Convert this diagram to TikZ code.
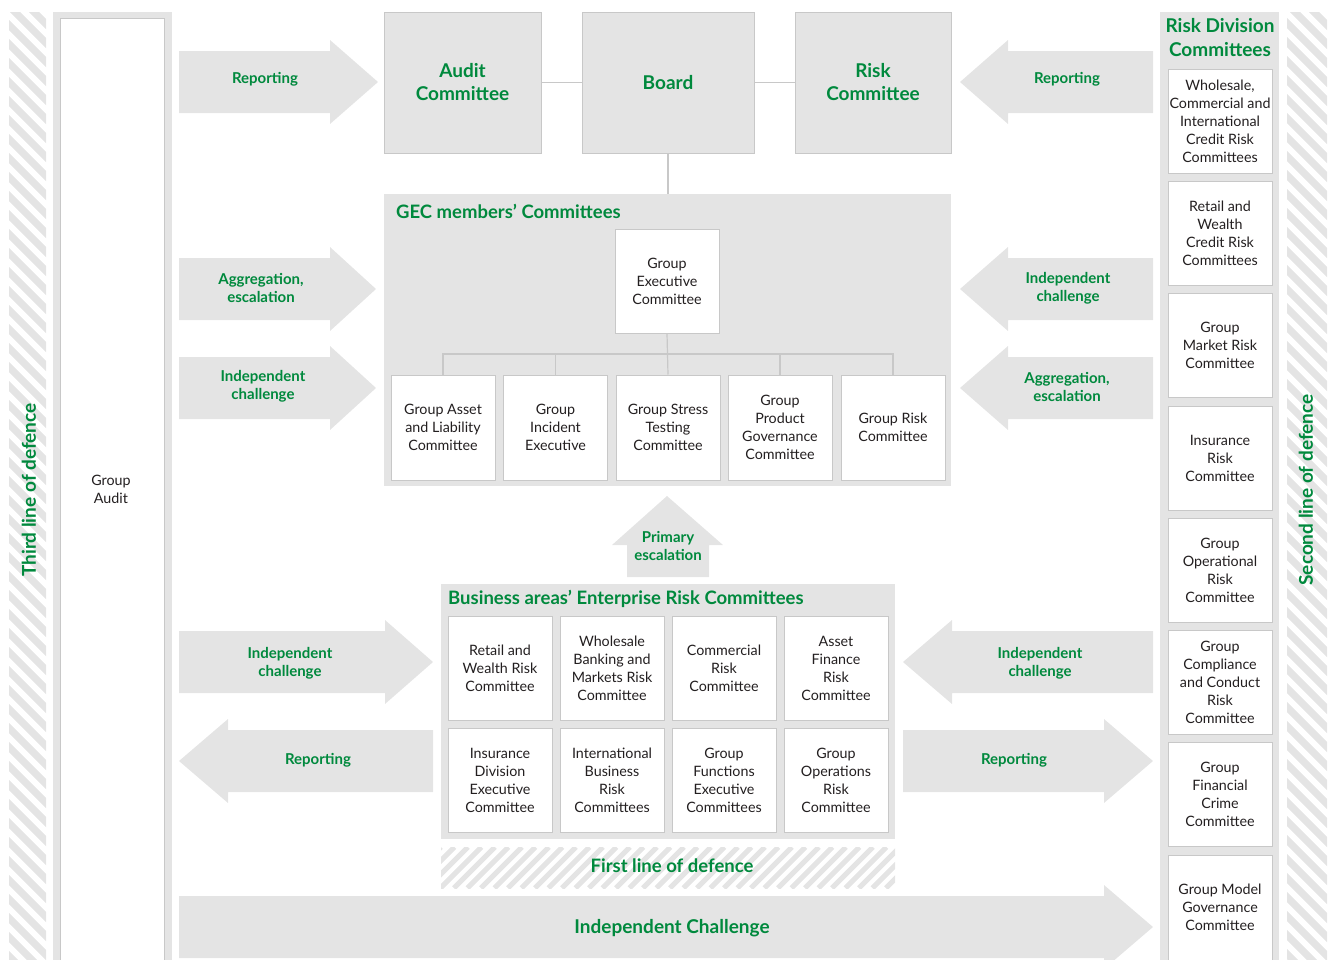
\documentclass[tikz,border=0pt]{standalone}
\usepackage{fontspec}
\setmainfont{Lato}
\definecolor{grn}{RGB}{0,137,61}
\definecolor{gfill}{RGB}{228,228,228}
\definecolor{gline}{RGB}{200,200,200}
\definecolor{hatchc}{RGB}{228,228,228}
\definecolor{bodyc}{RGB}{35,31,32}
\newcommand\shapeR[4]{\fill[gfill] (#1,{#4-31}) -- (#2,{#4-31}) -- (#2,{#4-42}) -- (#3,#4) -- (#2,{#4+42}) -- (#2,{#4+31}) -- (#1,{#4+31}) -- cycle;}
\newcommand\shapeL[4]{\fill[gfill] (#1,#4) -- (#2,{#4-42}) -- (#2,{#4-31}) -- (#3,{#4-31}) -- (#3,{#4+31}) -- (#2,{#4+31}) -- (#2,{#4+42}) -- cycle;}
\begin{document}
\begin{tikzpicture}[x=1pt,y=-1pt,
 gbox/.style={fill=gfill,draw=gline,line width=1pt,inner sep=0pt,text=grn,font=\fontsize{19}{23}\selectfont\bfseries,align=center,minimum height=141pt},
 wbox/.style={fill=white,draw=gline,line width=1pt,inner sep=0pt,minimum width=104pt,minimum height=104pt,align=center,font=\fontsize{14.3}{18}\selectfont,text=bodyc},
 lbl/.style={text=grn,font=\fontsize{15}{18}\selectfont\bfseries,align=center,inner sep=0pt},
 ttl/.style={text=grn,font=\fontsize{19}{24}\selectfont\bfseries,inner sep=0pt,align=center},
 conn/.style={draw=gline,line width=1.2pt},
 panel/.style={fill=gfill,inner sep=0pt}
 ]
\useasboundingbox (0,0) rectangle (1333,959);

% hatched strips
\begin{scope}
\clip (9,12) rectangle (46,959);
\foreach \i in {-60,-41,...,980} \draw[hatchc,line width=7.2pt] (0,\i) -- (60,{\i+60});
\end{scope}
\begin{scope}
\clip (1287,12) rectangle (1327,959);
\foreach \i in {-60,-41,...,980} \draw[hatchc,line width=7.2pt] (1280,\i) -- (1340,{\i+60});
\end{scope}
\begin{scope}
\clip (441,847) rectangle (895,888);
\foreach \i in {400,413.5,...,910} \draw[hatchc,line width=5.2pt] (\i,888) -- ({\i+41},847);
\end{scope}

% Group Audit column
\fill[gfill] (53,12) rectangle (172,975);
\node[draw=gline,fill=white,line width=1pt,minimum width=104pt,minimum height=957pt,inner sep=0pt] (gacol) at (112,496.5) {};
\node[font=\fontsize{14.3}{18}\selectfont,text=bodyc,align=center] (ga) at (111,489) {Group\\Audit};
\node[ttl,rotate=90] (third) at (29,490) {Third line of defence};

% Risk division column
\node[panel,minimum width=119pt,minimum height=963pt] (rdcol) at (1219.5,493.5) {};
\node[ttl] (rdt) at (1220,38) {Risk Division\\Committees};
\node[ttl,rotate=90] (second) at (1306,490) {Second line of defence};

% arrows
\shapeR{179}{330}{378}{82}
\shapeR{179}{330}{376}{289}
\shapeR{179}{330}{376}{388}
\shapeR{179}{385}{433}{662}
\shapeL{179}{228}{433}{761}
\shapeL{960}{1008}{1153}{82}
\shapeL{960}{1008}{1153}{289}
\shapeL{960}{1008}{1153}{388}
\shapeL{903}{952}{1153}{662}
\shapeR{903}{1104}{1153}{761}
\shapeR{179}{1104}{1153}{927}
\fill[gfill] (667,496) -- (723,545) -- (709,545) -- (709,577) -- (627,577) -- (627,545) -- (612,545) -- cycle;

% top boxes
\node[gbox,minimum width=157pt] (audit) at (462.5,82.5) {Audit\\Committee};
\node[gbox,minimum width=172pt] (board) at (668,82.5) {Board};
\node[gbox,minimum width=156pt] (risk) at (873,82.5) {Risk\\Committee};

% GEC panel
\node[panel,minimum width=567pt,minimum height=292pt] (gec) at (667.5,340) {};
\node[ttl,anchor=west,font=\fontsize{18.5}{22}\selectfont\bfseries] (gect) at (396,211) {GEC members’ Committees};
\node[wbox] (gex) at (667,281) {Group\\Executive\\Committee};
\node[wbox,minimum height=105pt] (c1) at (443,427.5) {Group Asset\\and Liability\\Committee};
\node[wbox,minimum height=105pt] (c2) at (555.5,427.5) {Group\\Incident\\Executive};
\node[wbox,minimum height=105pt] (c3) at (668,427.5) {Group Stress\\Testing\\Committee};
\node[wbox,minimum height=105pt] (c4) at (780,427.5) {Group\\Product\\Governance\\Committee};
\node[wbox,minimum height=105pt] (c5) at (893,427.5) {Group Risk\\Committee};

% Business panel
\node[panel,minimum width=454pt,minimum height=255pt] (bus) at (668,711.5) {};
\node[ttl,anchor=west,font=\fontsize{18.5}{22}\selectfont\bfseries] (bust) at (448,599) {Business areas’ Enterprise Risk Committees};
\node[wbox] (b1) at (500,668) {Retail and\\Wealth Risk\\Committee};
\node[wbox] (b2) at (612,668) {Wholesale\\Banking and\\Markets Risk\\Committee};
\node[wbox] (b3) at (724,668) {Commercial\\Risk\\Committee};
\node[wbox] (b4) at (836,668) {Asset\\Finance\\Risk\\Committee};
\node[wbox] (b5) at (500,780) {Insurance\\Division\\Executive\\Committee};
\node[wbox] (b6) at (612,780) {International\\Business\\Risk\\Committees};
\node[wbox] (b7) at (724,780) {Group\\Functions\\Executive\\Committees};
\node[wbox] (b8) at (836,780) {Group\\Operations\\Risk\\Committee};

% Risk division boxes
\node[wbox] (r1) at (1220,121) {Wholesale,\\Commercial and\\International\\Credit Risk\\Committees};
\node[wbox] (r2) at (1220,233) {Retail and\\Wealth\\Credit Risk\\Committees};
\node[wbox] (r3) at (1220,345.5) {Group\\Market Risk\\Committee};
\node[wbox] (r4) at (1220,458) {Insurance\\Risk\\Committee};
\node[wbox] (r5) at (1220,570) {Group\\Operational\\Risk\\Committee};
\node[wbox] (r6) at (1220,682) {Group\\Compliance\\and Conduct\\Risk\\Committee};
\node[wbox] (r7) at (1220,794) {Group\\Financial\\Crime\\Committee};
\node[wbox,minimum height=120pt] (r8) at (1220,915) {};
\node[font=\fontsize{14.3}{18}\selectfont,text=bodyc,align=center,inner sep=0pt] (r8t) at (1220,907) {Group Model\\Governance\\Committee};

% connectors
\coordinate (busline) at (668,354);
\draw[conn] (audit.east) -- (board.west);
\draw[conn] (board.east) -- (risk.west);
\draw[conn] (board.south) -- (board.south |- gec.north);
\draw[conn] (gex.south) -- (c3.north);
\draw[conn] (c1.north) -- (c1.north |- busline) -- (c5.north |- busline) -- (c5.north);
\draw[conn] (c2.north) -- (c2.north |- busline);
\draw[conn] (c4.north) -- (c4.north |- busline);

% arrow labels
\node[lbl] (l1) at (265,79) {Reporting};
\node[lbl] (l2) at (261,288) {Aggregation,\\escalation};
\node[lbl] (l3) at (263,386) {Independent\\challenge};
\node[lbl] (l4) at (290,663) {Independent\\challenge};
\node[lbl] (l5) at (318,760) {Reporting};
\node[lbl] (l6) at (1067,79) {Reporting};
\node[lbl] (l7) at (1068,288) {Independent\\challenge};
\node[lbl] (l8) at (1067,387) {Aggregation,\\escalation};
\node[lbl] (l9) at (1040,663) {Independent\\challenge};
\node[lbl] (l10) at (1014,760) {Reporting};
\node[lbl] (prim) at (668,546) {Primary\\escalation};
\node[ttl] (indc) at (672,928) {Independent Challenge};
\node[ttl,font=\fontsize{18.5}{22}\selectfont\bfseries] (first) at (672,866) {First line of defence};
\end{tikzpicture}
\end{document}
